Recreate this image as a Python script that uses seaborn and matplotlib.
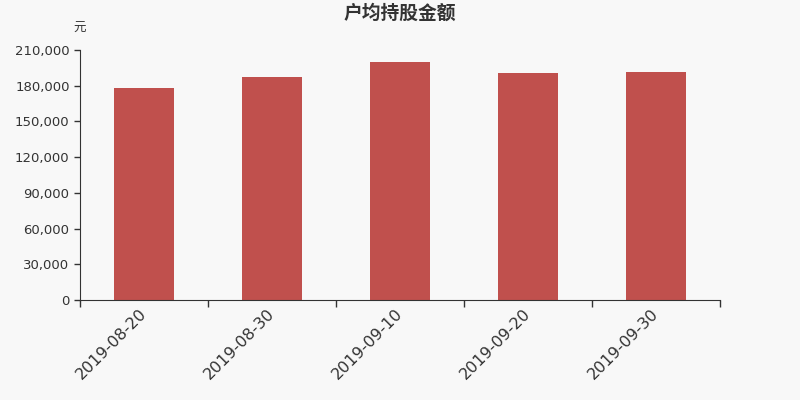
import numpy as np
import pandas as pd
import matplotlib
matplotlib.use("Agg")
import matplotlib.pyplot as plt
import matplotlib.ticker as mticker
import seaborn as sns

sns.set_style("ticks")
plt.rcParams['font.family'] = ['DejaVu Sans', 'Noto Sans CJK SC']

# %%
dates = ["2019-08-20", "2019-08-30", "2019-09-10", "2019-09-20", "2019-09-30"]
amounts = [178000, 187300, 199900, 190700, 191500]
yticks = [0, 30000, 60000, 90000, 120000, 150000, 180000, 210000]

df = pd.DataFrame({"date": dates, "amount": amounts})

# %%
bg = "#f8f8f8"
fig = plt.figure(figsize=(8, 4), dpi=100, facecolor=bg)
ax = fig.add_axes([0.1, 0.25, 0.8, 0.625], facecolor=bg)

sns.barplot(data=df, x="date", y="amount", color="#c0504d", saturation=1,
            width=0.47, linewidth=0, ax=ax)

ax.set_xlim(-0.5, len(dates) - 0.5)
ax.set_ylim(0, 210000)
ax.set_yticks(yticks)
ax.yaxis.set_major_formatter(mticker.FuncFormatter(lambda v, p: f"{int(v):,}"))
ax.tick_params(axis="y", labelsize=9.5, colors="#333333", length=4, width=1)

ax.set_xticks(range(len(dates)))
ax.set_xticklabels(dates, rotation=45, ha="right", va="center",
                   rotation_mode="anchor", fontsize=11.5, color="#333333")
ax.set_xticks(np.arange(-0.5, len(dates)), minor=True)
ax.tick_params(axis="x", which="major", length=0, pad=8)
ax.tick_params(axis="x", which="minor", length=5, width=1, color="#333333")

ax.set_xlabel("")
ax.set_ylabel("")
for s in ["top", "right"]:
    ax.spines[s].set_visible(False)
for s in ["left", "bottom"]:
    ax.spines[s].set_color("#333333")

fig.text(0.5, 0.967, "户均持股金额", ha="center", va="center",
         fontsize=13.5, fontweight="bold", color="#333333",
         family=['Noto Sans CJK SC', 'DejaVu Sans'])
fig.text(0.1, 0.928, "元", ha="center", va="center", fontsize=9, color="#333333",
         family=['Noto Sans CJK SC', 'DejaVu Sans'])

fig.savefig("out.png", dpi=100, facecolor=bg)
